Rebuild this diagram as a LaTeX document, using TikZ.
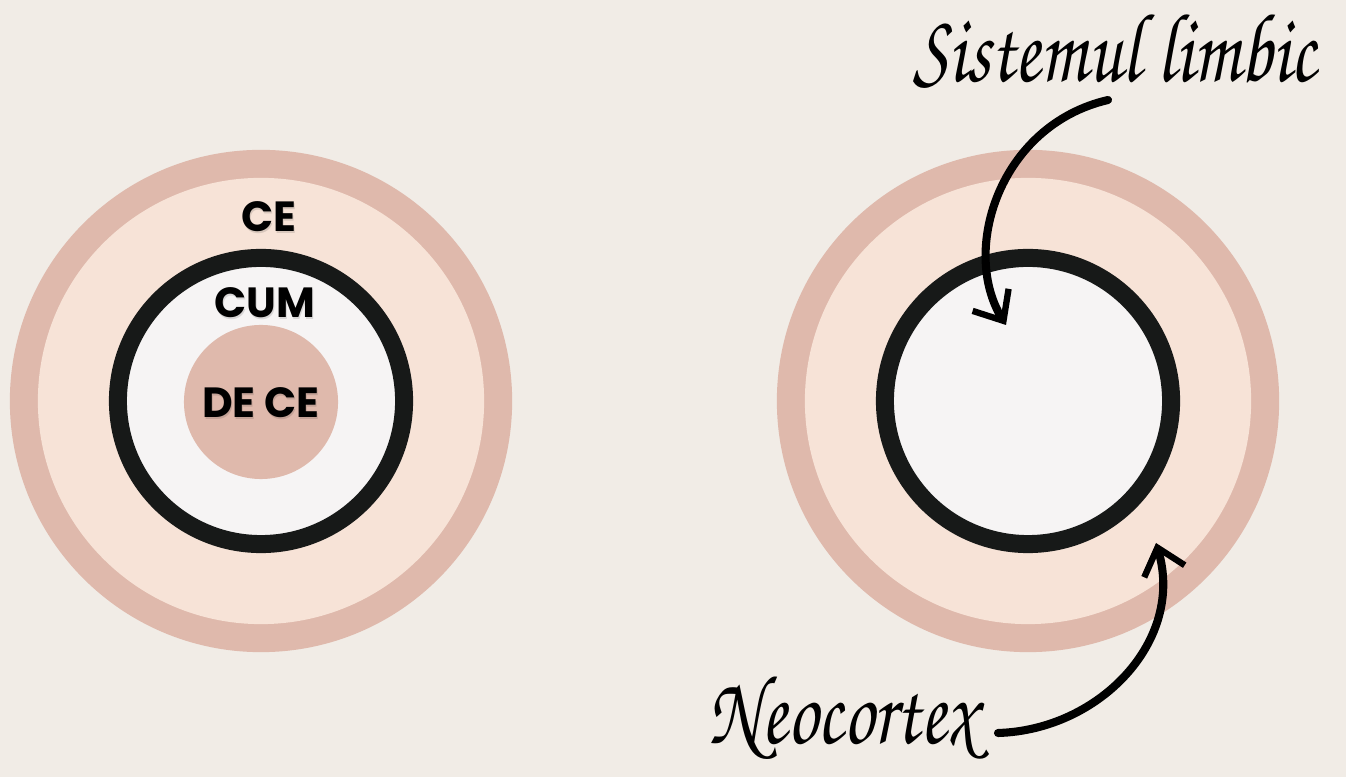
\documentclass[tikz,border=0pt]{standalone}
\usepackage[T1,TU]{fontenc}
\usepackage{fontspec}
\newfontfamily\boldsans{Poppins}[UprightFont=* Bold]
\usetikzlibrary{arrows.meta}
\definecolor{bg}{HTML}{F1ECE6}
\definecolor{ringout}{HTML}{DFB9AC}
\definecolor{ringin}{HTML}{F7E3D7}
\definecolor{core}{HTML}{F6F4F4}
\definecolor{edge}{HTML}{171918}
\newcommand{\handfont}{\fontencoding{T1}\fontfamily{pzc}\fontseries{mb}\fontshape{it}\selectfont}
\begin{document}
\begin{tikzpicture}[
  x=0.01cm, y=-0.01cm,
  word/.style={font=\boldsans\fontsize{12}{12}\selectfont, text=black},
  shade/.style={font=\boldsans\fontsize{12}{12}\selectfont, text=black, opacity=0.12},
  hand/.style={font=\handfont\fontsize{21.5}{21.5}\selectfont, text=black,
               anchor=base, yscale=1.3, transform shape},
  pointer/.style={-{Straight Barb[length=7pt,width=12pt,line width=1.8pt]},
                  line width=2.3pt, line cap=round}
]
  \fill[bg] (0,0) rectangle (1346,777);
  \useasboundingbox (0,0) rectangle (1346,777);

  % left circle
  \fill[ringout] (261,401) circle (2.51cm);
  \fill[ringin] (261,401) circle (2.23cm);
  \draw[edge, fill=core, line width=0.18cm] (261,401) circle (1.43cm);
  \fill[ringout] (261,402) circle (0.77cm);

  % right circle
  \fill[ringout] (1028,401) circle (2.51cm);
  \fill[ringin] (1028,401) circle (2.23cm);
  \draw[edge, fill=core, line width=0.18cm] (1028,401) circle (1.43cm);

  % words
  \foreach \txt/\px/\py in {CE/269/217, CUM/265/303, DE CE/261/403}
    \node[shade] at (\px+1,\py+2) {\txt};
  \node[word] (ce) at (269,217) {CE};
  \node[word] (cum) at (265,303) {CUM};
  \node[word] (dece) at (261,403) {DE CE};

  % labels
  \node[hand] (limbic) at (1115,82) {Sistemul limbic};
  \node[hand] (neo) at (843,743) {Neocortex};

  \coordinate (limbic-from) at (1108,100);
  \coordinate (limbic-to) at (1006,325);
  \coordinate (neo-from) at (998,733);
  \coordinate (neo-to) at (1156,543);

  \draw[pointer] (limbic-from) .. controls (1000,125) and (960,250) .. (limbic-to);
  \draw[pointer] (neo-from) .. controls (1100,730) and (1185,640) .. (neo-to);
\end{tikzpicture}
\end{document}
